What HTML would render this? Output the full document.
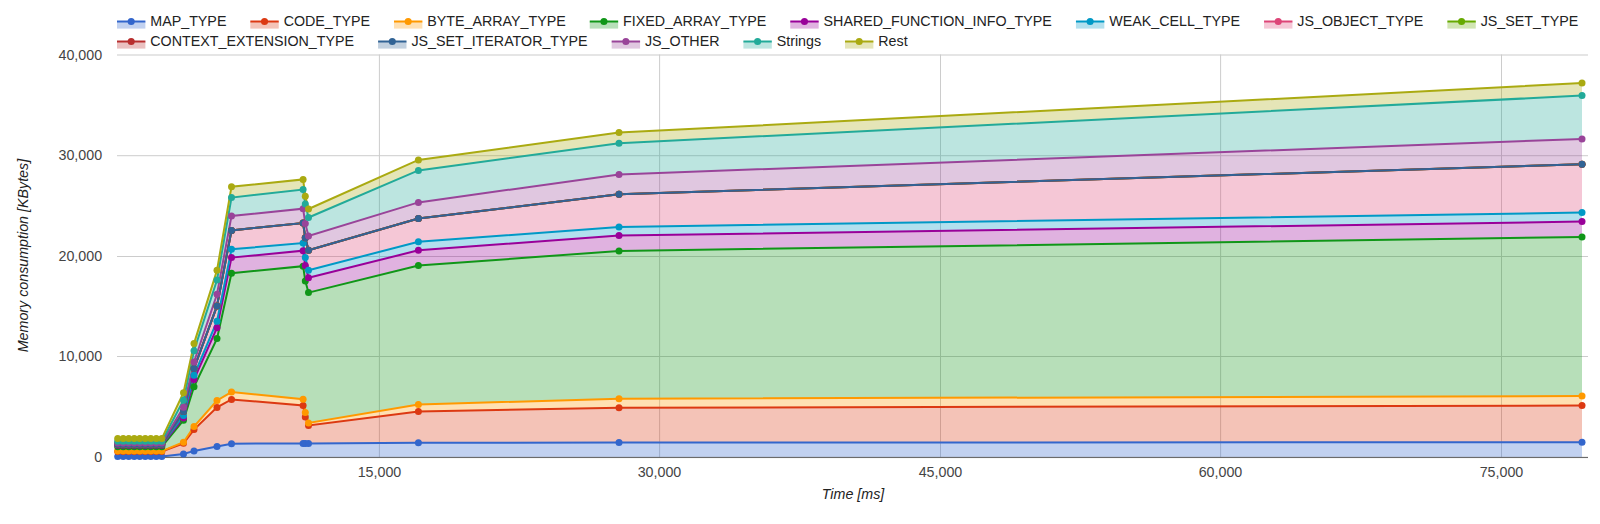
<!DOCTYPE html>
<html><head><meta charset="utf-8"><title>Memory consumption</title>
<style>html,body{margin:0;padding:0;background:#fff;}svg{display:block;}text{font-family:"Liberation Sans", sans-serif;font-size:14.28px;}</style>
</head><body>
<svg width="1600" height="524" viewBox="0 0 1600 524">
<rect x="0" y="0" width="1600" height="524" fill="#ffffff"/>
<g>
<rect x="117.00" y="21.5" width="28.40" height="7.1" fill="#3366cc" fill-opacity="0.3"/>
<path d="M117.00,21.5L145.40,21.5" stroke="#3366cc" stroke-width="2" fill="none"/>
<circle cx="131.20" cy="21.5" r="3.55" fill="#3366cc"/>
<text x="150.30" y="26.4" fill="#222222">MAP_TYPE</text>
<rect x="250.33" y="21.5" width="28.40" height="7.1" fill="#dc3912" fill-opacity="0.3"/>
<path d="M250.33,21.5L278.73,21.5" stroke="#dc3912" stroke-width="2" fill="none"/>
<circle cx="264.53" cy="21.5" r="3.55" fill="#dc3912"/>
<text x="283.63" y="26.4" fill="#222222">CODE_TYPE</text>
<rect x="393.98" y="21.5" width="28.40" height="7.1" fill="#ff9900" fill-opacity="0.3"/>
<path d="M393.98,21.5L422.38,21.5" stroke="#ff9900" stroke-width="2" fill="none"/>
<circle cx="408.18" cy="21.5" r="3.55" fill="#ff9900"/>
<text x="427.28" y="26.4" fill="#222222">BYTE_ARRAY_TYPE</text>
<rect x="589.75" y="21.5" width="28.40" height="7.1" fill="#109618" fill-opacity="0.3"/>
<path d="M589.75,21.5L618.15,21.5" stroke="#109618" stroke-width="2" fill="none"/>
<circle cx="603.95" cy="21.5" r="3.55" fill="#109618"/>
<text x="623.05" y="26.4" fill="#222222">FIXED_ARRAY_TYPE</text>
<rect x="790.27" y="21.5" width="28.40" height="7.1" fill="#990099" fill-opacity="0.3"/>
<path d="M790.27,21.5L818.67,21.5" stroke="#990099" stroke-width="2" fill="none"/>
<circle cx="804.47" cy="21.5" r="3.55" fill="#990099"/>
<text x="823.57" y="26.4" fill="#222222">SHARED_FUNCTION_INFO_TYPE</text>
<rect x="1075.94" y="21.5" width="28.40" height="7.1" fill="#0099c6" fill-opacity="0.3"/>
<path d="M1075.94,21.5L1104.34,21.5" stroke="#0099c6" stroke-width="2" fill="none"/>
<circle cx="1090.14" cy="21.5" r="3.55" fill="#0099c6"/>
<text x="1109.24" y="26.4" fill="#222222">WEAK_CELL_TYPE</text>
<rect x="1264.04" y="21.5" width="28.40" height="7.1" fill="#dd4477" fill-opacity="0.3"/>
<path d="M1264.04,21.5L1292.44,21.5" stroke="#dd4477" stroke-width="2" fill="none"/>
<circle cx="1278.24" cy="21.5" r="3.55" fill="#dd4477"/>
<text x="1297.34" y="26.4" fill="#222222">JS_OBJECT_TYPE</text>
<rect x="1447.37" y="21.5" width="28.40" height="7.1" fill="#66aa00" fill-opacity="0.3"/>
<path d="M1447.37,21.5L1475.77,21.5" stroke="#66aa00" stroke-width="2" fill="none"/>
<circle cx="1461.57" cy="21.5" r="3.55" fill="#66aa00"/>
<text x="1480.67" y="26.4" fill="#222222">JS_SET_TYPE</text>
<rect x="117.00" y="41.5" width="28.40" height="7.1" fill="#b82e2e" fill-opacity="0.3"/>
<path d="M117.00,41.5L145.40,41.5" stroke="#b82e2e" stroke-width="2" fill="none"/>
<circle cx="131.20" cy="41.5" r="3.55" fill="#b82e2e"/>
<text x="150.30" y="46.4" fill="#222222">CONTEXT_EXTENSION_TYPE</text>
<rect x="378.08" y="41.5" width="28.40" height="7.1" fill="#316395" fill-opacity="0.3"/>
<path d="M378.08,41.5L406.48,41.5" stroke="#316395" stroke-width="2" fill="none"/>
<circle cx="392.28" cy="41.5" r="3.55" fill="#316395"/>
<text x="411.38" y="46.4" fill="#222222">JS_SET_ITERATOR_TYPE</text>
<rect x="611.67" y="41.5" width="28.40" height="7.1" fill="#994499" fill-opacity="0.3"/>
<path d="M611.67,41.5L640.07,41.5" stroke="#994499" stroke-width="2" fill="none"/>
<circle cx="625.87" cy="41.5" r="3.55" fill="#994499"/>
<text x="644.97" y="46.4" fill="#222222">JS_OTHER</text>
<rect x="743.40" y="41.5" width="28.40" height="7.1" fill="#22aa99" fill-opacity="0.3"/>
<path d="M743.40,41.5L771.80,41.5" stroke="#22aa99" stroke-width="2" fill="none"/>
<circle cx="757.60" cy="41.5" r="3.55" fill="#22aa99"/>
<text x="776.70" y="46.4" fill="#222222">Strings</text>
<rect x="845.00" y="41.5" width="28.40" height="7.1" fill="#aaaa11" fill-opacity="0.3"/>
<path d="M845.00,41.5L873.40,41.5" stroke="#aaaa11" stroke-width="2" fill="none"/>
<circle cx="859.20" cy="41.5" r="3.55" fill="#aaaa11"/>
<text x="878.30" y="46.4" fill="#222222">Rest</text>
</g>
<g>
<rect x="117" y="54.5" width="1471" height="1" fill="#cccccc"/>
<rect x="117" y="155.2" width="1471" height="1" fill="#cccccc"/>
<rect x="117" y="256.0" width="1471" height="1" fill="#cccccc"/>
<rect x="117" y="356.0" width="1471" height="1" fill="#cccccc"/>
<rect x="378.9" y="54.5" width="1" height="403" fill="#cccccc"/>
<rect x="659.1" y="54.5" width="1" height="403" fill="#cccccc"/>
<rect x="940.0" y="54.5" width="1" height="403" fill="#cccccc"/>
<rect x="1220.1" y="54.5" width="1" height="403" fill="#cccccc"/>
<rect x="1501.0" y="54.5" width="1" height="403" fill="#cccccc"/>
</g>
<g>
<polygon points="117.70,456.40 123.21,456.40 128.72,456.40 134.23,456.40 139.74,456.40 145.25,456.40 150.76,456.40 156.27,456.40 161.78,456.40 183.50,454.00 194.00,450.90 217.00,446.50 231.50,443.70 303.10,443.40 305.30,443.40 308.50,443.40 418.40,442.80 619.00,442.60 1582.00,442.20 1582.00,457.50 619.00,457.50 418.40,457.50 308.50,457.50 305.30,457.50 303.10,457.50 231.50,457.50 217.00,457.50 194.00,457.50 183.50,457.50 161.78,457.50 156.27,457.50 150.76,457.50 145.25,457.50 139.74,457.50 134.23,457.50 128.72,457.50 123.21,457.50 117.70,457.50" fill="#3366cc" fill-opacity="0.3" stroke="none"/>
<polygon points="117.70,451.50 123.21,451.50 128.72,451.50 134.23,451.50 139.74,451.50 145.25,451.50 150.76,451.50 156.27,451.50 161.78,451.50 183.50,443.30 194.00,429.60 217.00,407.40 231.50,399.40 303.10,405.50 305.30,416.90 308.50,425.50 418.40,411.40 619.00,407.70 1582.00,405.60 1582.00,442.20 619.00,442.60 418.40,442.80 308.50,443.40 305.30,443.40 303.10,443.40 231.50,443.70 217.00,446.50 194.00,450.90 183.50,454.00 161.78,456.40 156.27,456.40 150.76,456.40 145.25,456.40 139.74,456.40 134.23,456.40 128.72,456.40 123.21,456.40 117.70,456.40" fill="#dc3912" fill-opacity="0.3" stroke="none"/>
<polygon points="117.70,451.10 123.21,451.10 128.72,451.10 134.23,451.10 139.74,451.10 145.25,451.10 150.76,451.10 156.27,451.10 161.78,451.10 183.50,442.30 194.00,426.50 217.00,400.50 231.50,392.10 303.10,399.20 305.30,412.60 308.50,422.90 418.40,404.50 619.00,398.70 1582.00,396.10 1582.00,405.60 619.00,407.70 418.40,411.40 308.50,425.50 305.30,416.90 303.10,405.50 231.50,399.40 217.00,407.40 194.00,429.60 183.50,443.30 161.78,451.50 156.27,451.50 150.76,451.50 145.25,451.50 139.74,451.50 134.23,451.50 128.72,451.50 123.21,451.50 117.70,451.50" fill="#ff9900" fill-opacity="0.3" stroke="none"/>
<polygon points="117.70,446.70 123.21,446.70 128.72,446.70 134.23,446.70 139.74,446.70 145.25,446.70 150.76,446.70 156.27,446.70 161.78,446.70 183.50,420.20 194.00,386.80 217.00,338.60 231.50,273.20 303.10,266.20 305.30,280.90 308.50,292.60 418.40,265.60 619.00,250.90 1582.00,237.00 1582.00,396.10 619.00,398.70 418.40,404.50 308.50,422.90 305.30,412.60 303.10,399.20 231.50,392.10 217.00,400.50 194.00,426.50 183.50,442.30 161.78,451.10 156.27,451.10 150.76,451.10 145.25,451.10 139.74,451.10 134.23,451.10 128.72,451.10 123.21,451.10 117.70,451.10" fill="#109618" fill-opacity="0.3" stroke="none"/>
<polygon points="117.70,445.30 123.21,445.30 128.72,445.30 134.23,445.30 139.74,445.30 145.25,445.30 150.76,445.30 156.27,445.30 161.78,445.30 183.50,417.90 194.00,379.60 217.00,327.70 231.50,257.60 303.10,250.70 305.30,265.60 308.50,277.80 418.40,250.30 619.00,235.60 1582.00,221.60 1582.00,237.00 619.00,250.90 418.40,265.60 308.50,292.60 305.30,280.90 303.10,266.20 231.50,273.20 217.00,338.60 194.00,386.80 183.50,420.20 161.78,446.70 156.27,446.70 150.76,446.70 145.25,446.70 139.74,446.70 134.23,446.70 128.72,446.70 123.21,446.70 117.70,446.70" fill="#990099" fill-opacity="0.3" stroke="none"/>
<polygon points="117.70,444.60 123.21,444.60 128.72,444.60 134.23,444.60 139.74,444.60 145.25,444.60 150.76,444.60 156.27,444.60 161.78,444.60 183.50,415.60 194.00,375.30 217.00,321.20 231.50,249.30 303.10,243.00 305.30,257.60 308.50,270.20 418.40,241.80 619.00,227.00 1582.00,212.60 1582.00,221.60 619.00,235.60 418.40,250.30 308.50,277.80 305.30,265.60 303.10,250.70 231.50,257.60 217.00,327.70 194.00,379.60 183.50,417.90 161.78,445.30 156.27,445.30 150.76,445.30 145.25,445.30 139.74,445.30 134.23,445.30 128.72,445.30 123.21,445.30 117.70,445.30" fill="#0099c6" fill-opacity="0.3" stroke="none"/>
<polygon points="117.70,444.30 123.21,444.30 128.72,444.30 134.23,444.30 139.74,444.30 145.25,444.30 150.76,444.30 156.27,444.30 161.78,444.30 183.50,411.50 194.00,368.50 217.00,305.90 231.50,230.40 303.10,223.00 305.30,237.70 308.50,250.20 418.40,218.60 619.00,194.20 1582.00,164.20 1582.00,212.60 619.00,227.00 418.40,241.80 308.50,270.20 305.30,257.60 303.10,243.00 231.50,249.30 217.00,321.20 194.00,375.30 183.50,415.60 161.78,444.60 156.27,444.60 150.76,444.60 145.25,444.60 139.74,444.60 134.23,444.60 128.72,444.60 123.21,444.60 117.70,444.60" fill="#dd4477" fill-opacity="0.3" stroke="none"/>
<polygon points="117.70,443.00 123.21,443.00 128.72,443.00 134.23,443.00 139.74,443.00 145.25,443.00 150.76,443.00 156.27,443.00 161.78,443.00 183.50,407.20 194.00,361.90 217.00,294.20 231.50,215.90 303.10,208.70 305.30,223.60 308.50,235.90 418.40,202.40 619.00,174.40 1582.00,138.90 1582.00,164.20 619.00,194.20 418.40,218.60 308.50,250.20 305.30,237.70 303.10,223.00 231.50,230.40 217.00,305.90 194.00,368.50 183.50,411.50 161.78,444.30 156.27,444.30 150.76,444.30 145.25,444.30 139.74,444.30 134.23,444.30 128.72,444.30 123.21,444.30 117.70,444.30" fill="#994499" fill-opacity="0.3" stroke="none"/>
<polygon points="117.70,441.30 123.21,441.30 128.72,441.30 134.23,441.30 139.74,441.30 145.25,441.30 150.76,441.30 156.27,441.30 161.78,441.30 183.50,400.20 194.00,350.70 217.00,280.00 231.50,197.60 303.10,189.50 305.30,203.90 308.50,217.50 418.40,170.40 619.00,143.30 1582.00,95.60 1582.00,138.90 619.00,174.40 418.40,202.40 308.50,235.90 305.30,223.60 303.10,208.70 231.50,215.90 217.00,294.20 194.00,361.90 183.50,407.20 161.78,443.00 156.27,443.00 150.76,443.00 145.25,443.00 139.74,443.00 134.23,443.00 128.72,443.00 123.21,443.00 117.70,443.00" fill="#22aa99" fill-opacity="0.3" stroke="none"/>
<polygon points="117.70,438.60 123.21,438.60 128.72,438.60 134.23,438.60 139.74,438.60 145.25,438.60 150.76,438.60 156.27,438.60 161.78,438.60 183.50,392.70 194.00,343.60 217.00,270.30 231.50,186.70 303.10,179.40 305.30,196.20 308.50,209.00 418.40,159.90 619.00,132.60 1582.00,83.10 1582.00,95.60 619.00,143.30 418.40,170.40 308.50,217.50 305.30,203.90 303.10,189.50 231.50,197.60 217.00,280.00 194.00,350.70 183.50,400.20 161.78,441.30 156.27,441.30 150.76,441.30 145.25,441.30 139.74,441.30 134.23,441.30 128.72,441.30 123.21,441.30 117.70,441.30" fill="#aaaa11" fill-opacity="0.3" stroke="none"/>
</g>
<g fill="none" stroke-width="2">
<polyline points="117.70,456.40 123.21,456.40 128.72,456.40 134.23,456.40 139.74,456.40 145.25,456.40 150.76,456.40 156.27,456.40 161.78,456.40 183.50,454.00 194.00,450.90 217.00,446.50 231.50,443.70 303.10,443.40 305.30,443.40 308.50,443.40 418.40,442.80 619.00,442.60 1582.00,442.20" stroke="#3366cc"/>
<polyline points="117.70,451.50 123.21,451.50 128.72,451.50 134.23,451.50 139.74,451.50 145.25,451.50 150.76,451.50 156.27,451.50 161.78,451.50 183.50,443.30 194.00,429.60 217.00,407.40 231.50,399.40 303.10,405.50 305.30,416.90 308.50,425.50 418.40,411.40 619.00,407.70 1582.00,405.60" stroke="#dc3912"/>
<polyline points="117.70,451.10 123.21,451.10 128.72,451.10 134.23,451.10 139.74,451.10 145.25,451.10 150.76,451.10 156.27,451.10 161.78,451.10 183.50,442.30 194.00,426.50 217.00,400.50 231.50,392.10 303.10,399.20 305.30,412.60 308.50,422.90 418.40,404.50 619.00,398.70 1582.00,396.10" stroke="#ff9900"/>
<polyline points="117.70,446.70 123.21,446.70 128.72,446.70 134.23,446.70 139.74,446.70 145.25,446.70 150.76,446.70 156.27,446.70 161.78,446.70 183.50,420.20 194.00,386.80 217.00,338.60 231.50,273.20 303.10,266.20 305.30,280.90 308.50,292.60 418.40,265.60 619.00,250.90 1582.00,237.00" stroke="#109618"/>
<polyline points="117.70,445.30 123.21,445.30 128.72,445.30 134.23,445.30 139.74,445.30 145.25,445.30 150.76,445.30 156.27,445.30 161.78,445.30 183.50,417.90 194.00,379.60 217.00,327.70 231.50,257.60 303.10,250.70 305.30,265.60 308.50,277.80 418.40,250.30 619.00,235.60 1582.00,221.60" stroke="#990099"/>
<polyline points="117.70,444.60 123.21,444.60 128.72,444.60 134.23,444.60 139.74,444.60 145.25,444.60 150.76,444.60 156.27,444.60 161.78,444.60 183.50,415.60 194.00,375.30 217.00,321.20 231.50,249.30 303.10,243.00 305.30,257.60 308.50,270.20 418.40,241.80 619.00,227.00 1582.00,212.60" stroke="#0099c6"/>
<polyline points="117.70,444.30 123.21,444.30 128.72,444.30 134.23,444.30 139.74,444.30 145.25,444.30 150.76,444.30 156.27,444.30 161.78,444.30 183.50,411.50 194.00,368.50 217.00,305.90 231.50,230.40 303.10,223.00 305.30,237.70 308.50,250.20 418.40,218.60 619.00,194.20 1582.00,164.20" stroke="#dd4477"/>
<polyline points="117.70,444.30 123.21,444.30 128.72,444.30 134.23,444.30 139.74,444.30 145.25,444.30 150.76,444.30 156.27,444.30 161.78,444.30 183.50,411.50 194.00,368.50 217.00,305.90 231.50,230.40 303.10,223.00 305.30,237.70 308.50,250.20 418.40,218.60 619.00,194.20 1582.00,164.20" stroke="#66aa00"/>
<polyline points="117.70,444.30 123.21,444.30 128.72,444.30 134.23,444.30 139.74,444.30 145.25,444.30 150.76,444.30 156.27,444.30 161.78,444.30 183.50,411.50 194.00,368.50 217.00,305.90 231.50,230.40 303.10,223.00 305.30,237.70 308.50,250.20 418.40,218.60 619.00,194.20 1582.00,164.20" stroke="#b82e2e"/>
<polyline points="117.70,444.30 123.21,444.30 128.72,444.30 134.23,444.30 139.74,444.30 145.25,444.30 150.76,444.30 156.27,444.30 161.78,444.30 183.50,411.50 194.00,368.50 217.00,305.90 231.50,230.40 303.10,223.00 305.30,237.70 308.50,250.20 418.40,218.60 619.00,194.20 1582.00,164.20" stroke="#316395"/>
<polyline points="117.70,443.00 123.21,443.00 128.72,443.00 134.23,443.00 139.74,443.00 145.25,443.00 150.76,443.00 156.27,443.00 161.78,443.00 183.50,407.20 194.00,361.90 217.00,294.20 231.50,215.90 303.10,208.70 305.30,223.60 308.50,235.90 418.40,202.40 619.00,174.40 1582.00,138.90" stroke="#994499"/>
<polyline points="117.70,441.30 123.21,441.30 128.72,441.30 134.23,441.30 139.74,441.30 145.25,441.30 150.76,441.30 156.27,441.30 161.78,441.30 183.50,400.20 194.00,350.70 217.00,280.00 231.50,197.60 303.10,189.50 305.30,203.90 308.50,217.50 418.40,170.40 619.00,143.30 1582.00,95.60" stroke="#22aa99"/>
<polyline points="117.70,438.60 123.21,438.60 128.72,438.60 134.23,438.60 139.74,438.60 145.25,438.60 150.76,438.60 156.27,438.60 161.78,438.60 183.50,392.70 194.00,343.60 217.00,270.30 231.50,186.70 303.10,179.40 305.30,196.20 308.50,209.00 418.40,159.90 619.00,132.60 1582.00,83.10" stroke="#aaaa11"/>
</g>
<rect x="117" y="456.88" width="1471" height="1.17" fill="#6b6b6b"/>
<g>
<g fill="#3366cc">
<circle cx="117.70" cy="456.40" r="3.5"/>
<circle cx="123.21" cy="456.40" r="3.5"/>
<circle cx="128.72" cy="456.40" r="3.5"/>
<circle cx="134.23" cy="456.40" r="3.5"/>
<circle cx="139.74" cy="456.40" r="3.5"/>
<circle cx="145.25" cy="456.40" r="3.5"/>
<circle cx="150.76" cy="456.40" r="3.5"/>
<circle cx="156.27" cy="456.40" r="3.5"/>
<circle cx="161.78" cy="456.40" r="3.5"/>
<circle cx="183.50" cy="454.00" r="3.5"/>
<circle cx="194.00" cy="450.90" r="3.5"/>
<circle cx="217.00" cy="446.50" r="3.5"/>
<circle cx="231.50" cy="443.70" r="3.5"/>
<circle cx="303.10" cy="443.40" r="3.5"/>
<circle cx="305.30" cy="443.40" r="3.5"/>
<circle cx="308.50" cy="443.40" r="3.5"/>
<circle cx="418.40" cy="442.80" r="3.5"/>
<circle cx="619.00" cy="442.60" r="3.5"/>
<circle cx="1582.00" cy="442.20" r="3.5"/>
</g>
<g fill="#dc3912">
<circle cx="117.70" cy="451.50" r="3.5"/>
<circle cx="123.21" cy="451.50" r="3.5"/>
<circle cx="128.72" cy="451.50" r="3.5"/>
<circle cx="134.23" cy="451.50" r="3.5"/>
<circle cx="139.74" cy="451.50" r="3.5"/>
<circle cx="145.25" cy="451.50" r="3.5"/>
<circle cx="150.76" cy="451.50" r="3.5"/>
<circle cx="156.27" cy="451.50" r="3.5"/>
<circle cx="161.78" cy="451.50" r="3.5"/>
<circle cx="183.50" cy="443.30" r="3.5"/>
<circle cx="194.00" cy="429.60" r="3.5"/>
<circle cx="217.00" cy="407.40" r="3.5"/>
<circle cx="231.50" cy="399.40" r="3.5"/>
<circle cx="303.10" cy="405.50" r="3.5"/>
<circle cx="305.30" cy="416.90" r="3.5"/>
<circle cx="308.50" cy="425.50" r="3.5"/>
<circle cx="418.40" cy="411.40" r="3.5"/>
<circle cx="619.00" cy="407.70" r="3.5"/>
<circle cx="1582.00" cy="405.60" r="3.5"/>
</g>
<g fill="#ff9900">
<circle cx="117.70" cy="451.10" r="3.5"/>
<circle cx="123.21" cy="451.10" r="3.5"/>
<circle cx="128.72" cy="451.10" r="3.5"/>
<circle cx="134.23" cy="451.10" r="3.5"/>
<circle cx="139.74" cy="451.10" r="3.5"/>
<circle cx="145.25" cy="451.10" r="3.5"/>
<circle cx="150.76" cy="451.10" r="3.5"/>
<circle cx="156.27" cy="451.10" r="3.5"/>
<circle cx="161.78" cy="451.10" r="3.5"/>
<circle cx="183.50" cy="442.30" r="3.5"/>
<circle cx="194.00" cy="426.50" r="3.5"/>
<circle cx="217.00" cy="400.50" r="3.5"/>
<circle cx="231.50" cy="392.10" r="3.5"/>
<circle cx="303.10" cy="399.20" r="3.5"/>
<circle cx="305.30" cy="412.60" r="3.5"/>
<circle cx="308.50" cy="422.90" r="3.5"/>
<circle cx="418.40" cy="404.50" r="3.5"/>
<circle cx="619.00" cy="398.70" r="3.5"/>
<circle cx="1582.00" cy="396.10" r="3.5"/>
</g>
<g fill="#109618">
<circle cx="117.70" cy="446.70" r="3.5"/>
<circle cx="123.21" cy="446.70" r="3.5"/>
<circle cx="128.72" cy="446.70" r="3.5"/>
<circle cx="134.23" cy="446.70" r="3.5"/>
<circle cx="139.74" cy="446.70" r="3.5"/>
<circle cx="145.25" cy="446.70" r="3.5"/>
<circle cx="150.76" cy="446.70" r="3.5"/>
<circle cx="156.27" cy="446.70" r="3.5"/>
<circle cx="161.78" cy="446.70" r="3.5"/>
<circle cx="183.50" cy="420.20" r="3.5"/>
<circle cx="194.00" cy="386.80" r="3.5"/>
<circle cx="217.00" cy="338.60" r="3.5"/>
<circle cx="231.50" cy="273.20" r="3.5"/>
<circle cx="303.10" cy="266.20" r="3.5"/>
<circle cx="305.30" cy="280.90" r="3.5"/>
<circle cx="308.50" cy="292.60" r="3.5"/>
<circle cx="418.40" cy="265.60" r="3.5"/>
<circle cx="619.00" cy="250.90" r="3.5"/>
<circle cx="1582.00" cy="237.00" r="3.5"/>
</g>
<g fill="#990099">
<circle cx="117.70" cy="445.30" r="3.5"/>
<circle cx="123.21" cy="445.30" r="3.5"/>
<circle cx="128.72" cy="445.30" r="3.5"/>
<circle cx="134.23" cy="445.30" r="3.5"/>
<circle cx="139.74" cy="445.30" r="3.5"/>
<circle cx="145.25" cy="445.30" r="3.5"/>
<circle cx="150.76" cy="445.30" r="3.5"/>
<circle cx="156.27" cy="445.30" r="3.5"/>
<circle cx="161.78" cy="445.30" r="3.5"/>
<circle cx="183.50" cy="417.90" r="3.5"/>
<circle cx="194.00" cy="379.60" r="3.5"/>
<circle cx="217.00" cy="327.70" r="3.5"/>
<circle cx="231.50" cy="257.60" r="3.5"/>
<circle cx="303.10" cy="250.70" r="3.5"/>
<circle cx="305.30" cy="265.60" r="3.5"/>
<circle cx="308.50" cy="277.80" r="3.5"/>
<circle cx="418.40" cy="250.30" r="3.5"/>
<circle cx="619.00" cy="235.60" r="3.5"/>
<circle cx="1582.00" cy="221.60" r="3.5"/>
</g>
<g fill="#0099c6">
<circle cx="117.70" cy="444.60" r="3.5"/>
<circle cx="123.21" cy="444.60" r="3.5"/>
<circle cx="128.72" cy="444.60" r="3.5"/>
<circle cx="134.23" cy="444.60" r="3.5"/>
<circle cx="139.74" cy="444.60" r="3.5"/>
<circle cx="145.25" cy="444.60" r="3.5"/>
<circle cx="150.76" cy="444.60" r="3.5"/>
<circle cx="156.27" cy="444.60" r="3.5"/>
<circle cx="161.78" cy="444.60" r="3.5"/>
<circle cx="183.50" cy="415.60" r="3.5"/>
<circle cx="194.00" cy="375.30" r="3.5"/>
<circle cx="217.00" cy="321.20" r="3.5"/>
<circle cx="231.50" cy="249.30" r="3.5"/>
<circle cx="303.10" cy="243.00" r="3.5"/>
<circle cx="305.30" cy="257.60" r="3.5"/>
<circle cx="308.50" cy="270.20" r="3.5"/>
<circle cx="418.40" cy="241.80" r="3.5"/>
<circle cx="619.00" cy="227.00" r="3.5"/>
<circle cx="1582.00" cy="212.60" r="3.5"/>
</g>
<g fill="#dd4477">
<circle cx="117.70" cy="444.30" r="3.5"/>
<circle cx="123.21" cy="444.30" r="3.5"/>
<circle cx="128.72" cy="444.30" r="3.5"/>
<circle cx="134.23" cy="444.30" r="3.5"/>
<circle cx="139.74" cy="444.30" r="3.5"/>
<circle cx="145.25" cy="444.30" r="3.5"/>
<circle cx="150.76" cy="444.30" r="3.5"/>
<circle cx="156.27" cy="444.30" r="3.5"/>
<circle cx="161.78" cy="444.30" r="3.5"/>
<circle cx="183.50" cy="411.50" r="3.5"/>
<circle cx="194.00" cy="368.50" r="3.5"/>
<circle cx="217.00" cy="305.90" r="3.5"/>
<circle cx="231.50" cy="230.40" r="3.5"/>
<circle cx="303.10" cy="223.00" r="3.5"/>
<circle cx="305.30" cy="237.70" r="3.5"/>
<circle cx="308.50" cy="250.20" r="3.5"/>
<circle cx="418.40" cy="218.60" r="3.5"/>
<circle cx="619.00" cy="194.20" r="3.5"/>
<circle cx="1582.00" cy="164.20" r="3.5"/>
</g>
<g fill="#66aa00">
<circle cx="117.70" cy="444.30" r="3.5"/>
<circle cx="123.21" cy="444.30" r="3.5"/>
<circle cx="128.72" cy="444.30" r="3.5"/>
<circle cx="134.23" cy="444.30" r="3.5"/>
<circle cx="139.74" cy="444.30" r="3.5"/>
<circle cx="145.25" cy="444.30" r="3.5"/>
<circle cx="150.76" cy="444.30" r="3.5"/>
<circle cx="156.27" cy="444.30" r="3.5"/>
<circle cx="161.78" cy="444.30" r="3.5"/>
<circle cx="183.50" cy="411.50" r="3.5"/>
<circle cx="194.00" cy="368.50" r="3.5"/>
<circle cx="217.00" cy="305.90" r="3.5"/>
<circle cx="231.50" cy="230.40" r="3.5"/>
<circle cx="303.10" cy="223.00" r="3.5"/>
<circle cx="305.30" cy="237.70" r="3.5"/>
<circle cx="308.50" cy="250.20" r="3.5"/>
<circle cx="418.40" cy="218.60" r="3.5"/>
<circle cx="619.00" cy="194.20" r="3.5"/>
<circle cx="1582.00" cy="164.20" r="3.5"/>
</g>
<g fill="#b82e2e">
<circle cx="117.70" cy="444.30" r="3.5"/>
<circle cx="123.21" cy="444.30" r="3.5"/>
<circle cx="128.72" cy="444.30" r="3.5"/>
<circle cx="134.23" cy="444.30" r="3.5"/>
<circle cx="139.74" cy="444.30" r="3.5"/>
<circle cx="145.25" cy="444.30" r="3.5"/>
<circle cx="150.76" cy="444.30" r="3.5"/>
<circle cx="156.27" cy="444.30" r="3.5"/>
<circle cx="161.78" cy="444.30" r="3.5"/>
<circle cx="183.50" cy="411.50" r="3.5"/>
<circle cx="194.00" cy="368.50" r="3.5"/>
<circle cx="217.00" cy="305.90" r="3.5"/>
<circle cx="231.50" cy="230.40" r="3.5"/>
<circle cx="303.10" cy="223.00" r="3.5"/>
<circle cx="305.30" cy="237.70" r="3.5"/>
<circle cx="308.50" cy="250.20" r="3.5"/>
<circle cx="418.40" cy="218.60" r="3.5"/>
<circle cx="619.00" cy="194.20" r="3.5"/>
<circle cx="1582.00" cy="164.20" r="3.5"/>
</g>
<g fill="#316395">
<circle cx="117.70" cy="444.30" r="3.5"/>
<circle cx="123.21" cy="444.30" r="3.5"/>
<circle cx="128.72" cy="444.30" r="3.5"/>
<circle cx="134.23" cy="444.30" r="3.5"/>
<circle cx="139.74" cy="444.30" r="3.5"/>
<circle cx="145.25" cy="444.30" r="3.5"/>
<circle cx="150.76" cy="444.30" r="3.5"/>
<circle cx="156.27" cy="444.30" r="3.5"/>
<circle cx="161.78" cy="444.30" r="3.5"/>
<circle cx="183.50" cy="411.50" r="3.5"/>
<circle cx="194.00" cy="368.50" r="3.5"/>
<circle cx="217.00" cy="305.90" r="3.5"/>
<circle cx="231.50" cy="230.40" r="3.5"/>
<circle cx="303.10" cy="223.00" r="3.5"/>
<circle cx="305.30" cy="237.70" r="3.5"/>
<circle cx="308.50" cy="250.20" r="3.5"/>
<circle cx="418.40" cy="218.60" r="3.5"/>
<circle cx="619.00" cy="194.20" r="3.5"/>
<circle cx="1582.00" cy="164.20" r="3.5"/>
</g>
<g fill="#994499">
<circle cx="117.70" cy="443.00" r="3.5"/>
<circle cx="123.21" cy="443.00" r="3.5"/>
<circle cx="128.72" cy="443.00" r="3.5"/>
<circle cx="134.23" cy="443.00" r="3.5"/>
<circle cx="139.74" cy="443.00" r="3.5"/>
<circle cx="145.25" cy="443.00" r="3.5"/>
<circle cx="150.76" cy="443.00" r="3.5"/>
<circle cx="156.27" cy="443.00" r="3.5"/>
<circle cx="161.78" cy="443.00" r="3.5"/>
<circle cx="183.50" cy="407.20" r="3.5"/>
<circle cx="194.00" cy="361.90" r="3.5"/>
<circle cx="217.00" cy="294.20" r="3.5"/>
<circle cx="231.50" cy="215.90" r="3.5"/>
<circle cx="303.10" cy="208.70" r="3.5"/>
<circle cx="305.30" cy="223.60" r="3.5"/>
<circle cx="308.50" cy="235.90" r="3.5"/>
<circle cx="418.40" cy="202.40" r="3.5"/>
<circle cx="619.00" cy="174.40" r="3.5"/>
<circle cx="1582.00" cy="138.90" r="3.5"/>
</g>
<g fill="#22aa99">
<circle cx="117.70" cy="441.30" r="3.5"/>
<circle cx="123.21" cy="441.30" r="3.5"/>
<circle cx="128.72" cy="441.30" r="3.5"/>
<circle cx="134.23" cy="441.30" r="3.5"/>
<circle cx="139.74" cy="441.30" r="3.5"/>
<circle cx="145.25" cy="441.30" r="3.5"/>
<circle cx="150.76" cy="441.30" r="3.5"/>
<circle cx="156.27" cy="441.30" r="3.5"/>
<circle cx="161.78" cy="441.30" r="3.5"/>
<circle cx="183.50" cy="400.20" r="3.5"/>
<circle cx="194.00" cy="350.70" r="3.5"/>
<circle cx="217.00" cy="280.00" r="3.5"/>
<circle cx="231.50" cy="197.60" r="3.5"/>
<circle cx="303.10" cy="189.50" r="3.5"/>
<circle cx="305.30" cy="203.90" r="3.5"/>
<circle cx="308.50" cy="217.50" r="3.5"/>
<circle cx="418.40" cy="170.40" r="3.5"/>
<circle cx="619.00" cy="143.30" r="3.5"/>
<circle cx="1582.00" cy="95.60" r="3.5"/>
</g>
<g fill="#aaaa11">
<circle cx="117.70" cy="438.60" r="3.5"/>
<circle cx="123.21" cy="438.60" r="3.5"/>
<circle cx="128.72" cy="438.60" r="3.5"/>
<circle cx="134.23" cy="438.60" r="3.5"/>
<circle cx="139.74" cy="438.60" r="3.5"/>
<circle cx="145.25" cy="438.60" r="3.5"/>
<circle cx="150.76" cy="438.60" r="3.5"/>
<circle cx="156.27" cy="438.60" r="3.5"/>
<circle cx="161.78" cy="438.60" r="3.5"/>
<circle cx="183.50" cy="392.70" r="3.5"/>
<circle cx="194.00" cy="343.60" r="3.5"/>
<circle cx="217.00" cy="270.30" r="3.5"/>
<circle cx="231.50" cy="186.70" r="3.5"/>
<circle cx="303.10" cy="179.40" r="3.5"/>
<circle cx="305.30" cy="196.20" r="3.5"/>
<circle cx="308.50" cy="209.00" r="3.5"/>
<circle cx="418.40" cy="159.90" r="3.5"/>
<circle cx="619.00" cy="132.60" r="3.5"/>
<circle cx="1582.00" cy="83.10" r="3.5"/>
</g>
</g>
<g fill="#444444">
<text x="379.5" y="477.4" text-anchor="middle">15,000</text>
<text x="659.5" y="477.4" text-anchor="middle">30,000</text>
<text x="940.5" y="477.4" text-anchor="middle">45,000</text>
<text x="1220.5" y="477.4" text-anchor="middle">60,000</text>
<text x="1501.5" y="477.4" text-anchor="middle">75,000</text>
<text x="102.1" y="59.7" text-anchor="end">40,000</text>
<text x="102.1" y="160.2" text-anchor="end">30,000</text>
<text x="102.1" y="261.1" text-anchor="end">20,000</text>
<text x="102.1" y="361.1" text-anchor="end">10,000</text>
<text x="102.1" y="462.1" text-anchor="end">0</text>
</g>
<text x="853" y="499.3" text-anchor="middle" font-style="italic" fill="#222222">Time [ms]</text>
<text x="28.2" y="255.6" text-anchor="middle" font-style="italic" fill="#222222" transform="rotate(-90 28.2 255.6)">Memory consumption [KBytes]</text>
</svg>
</body></html>
